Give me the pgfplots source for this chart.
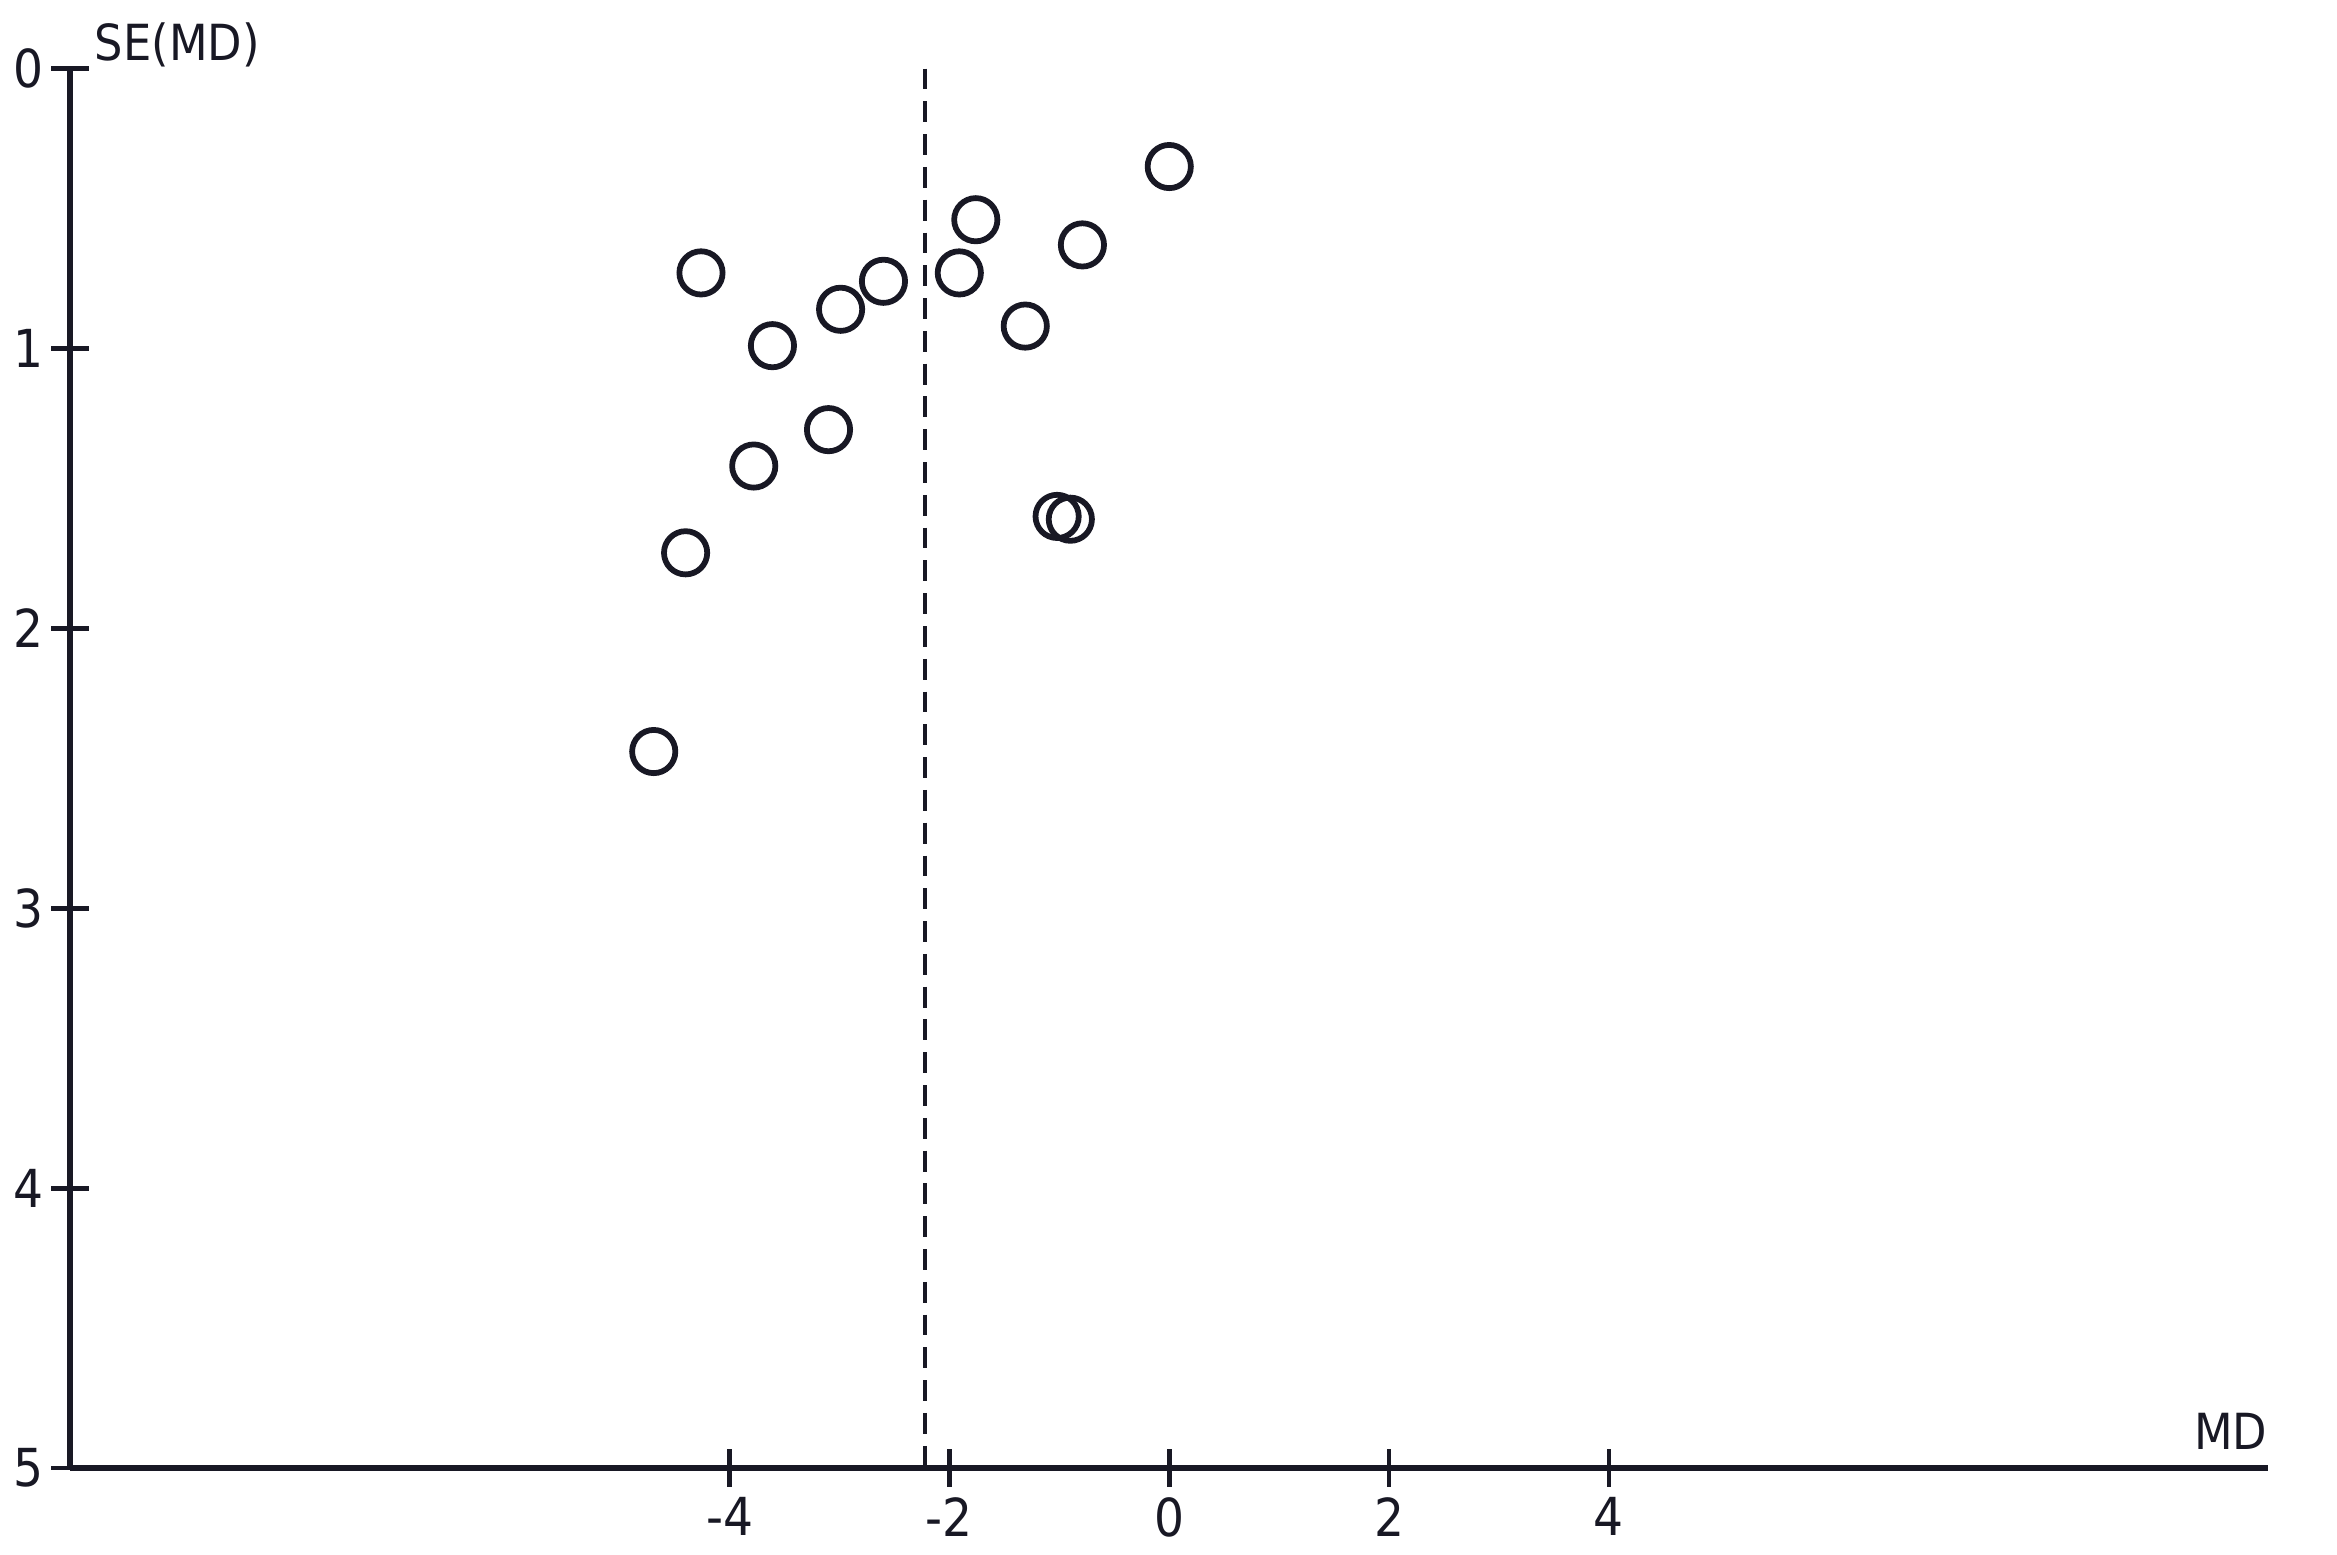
\documentclass[border=0pt]{standalone}
\usepackage{pgfplots}
\pgfplotsset{compat=1.18}
\usepackage{fontspec}
\setmainfont{DejaVu Sans Condensed}
\definecolor{ink}{RGB}{24,24,36}
\begin{document}
\begin{tikzpicture}
\path[use as bounding box] (-0.47cm,-0.58cm) rectangle (15.21cm,9.85cm);
\begin{axis}[
  at={(0,0)}, anchor=south west,
  scale only axis, width=14.75cm, height=9.39cm,
  xmin=-10, xmax=10, ymin=0, ymax=5,
  y dir=reverse,
  axis x line=bottom, axis y line=left,
  axis line style={-, line width=1pt, ink},
  xtick={-4,-2,0,2,4}, ytick={0,1,2,3,4,5},
  tick align=center, major tick length=0.25cm,
  tick style={line width=0.9pt, ink},
  every tick label/.style={font=\fontsize{10}{12}\selectfont, text=ink},
  /pgf/number format/assume math mode=true,
  xticklabel style={yshift=0.05cm},
  yticklabel style={xshift=0.07cm},
  xlabel={MD}, ylabel={SE(MD)},
  label style={font=\fontsize{9.5}{11}\selectfont, text=ink},
  xlabel style={at={(axis description cs:1,0)}, anchor=south east, inner sep=0pt, yshift=0.12cm},
  ylabel style={at={(axis description cs:0,1)}, anchor=west, rotate=-90, inner sep=0pt, xshift=0.16cm, yshift=0.16cm},
  clip=false,
]
\addplot[ink, line width=0.7pt, dash pattern=on 0.14cm off 0.08cm] coordinates {(-2.22,0) (-2.22,5)};
\addplot[only marks, mark=o, mark size=0.145cm, mark options={line width=1.1pt, draw=ink}] table {
x y
0 0.35
-1.76 0.54
-0.79 0.63
-4.26 0.73
-1.91 0.73
-2.60 0.76
-2.99 0.86
-1.31 0.92
-3.61 0.99
-3.10 1.29
-3.78 1.42
-1.02 1.60
-0.90 1.61
-4.40 1.73
-4.69 2.44
};
\end{axis}
\end{tikzpicture}
\end{document}
